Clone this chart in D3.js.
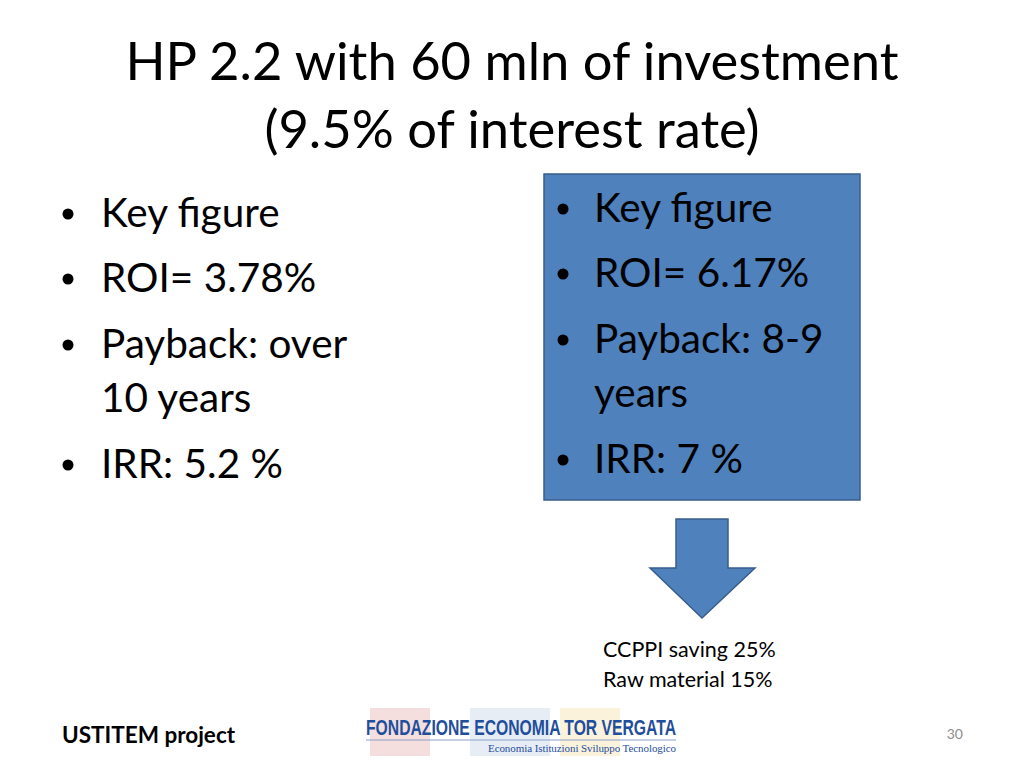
<!DOCTYPE html><html><head><meta charset="utf-8"><script src="https://cdn.jsdelivr.net/npm/d3@7"></script>
<style>body{margin:0;background:#fff}</style></head><body><script>
const titleLines=["HP 2.2 with 60 mln of investment","(9.5% of interest rate)"];
const leftBullets=[["Key figure"],["ROI= 3.78%"],["Payback: over","10 years"],["IRR: 5.2 %"]];
const rightBullets=[["Key figure"],["ROI= 6.17%"],["Payback: 8-9","years"],["IRR: 7 %"]];
const noteLines=["CCPPI saving 25%","Raw material 15%"];
const F="Lato, 'Open Sans', sans-serif";
const svg=d3.select("body").append("svg").attr("width",1024).attr("height",768);
svg.selectAll(".t").data(titleLines).join("text").attr("x",512).attr("y",(d,i)=>[80,148][i])
 .attr("text-anchor","middle").attr("font-family",F).attr("font-size",52.5).attr("fill","#000").text(d=>d);
svg.append("rect").attr("x",544).attr("y",174).attr("width",316).attr("height",326).attr("fill","#4f81bd").attr("stroke","#385d8a").attr("stroke-width",1.5);
svg.append("path").attr("d","M676,519H728V568H755L702,618L650,568H676Z").attr("fill","#4f81bd").attr("stroke","#385d8a").attr("stroke-width",1.5);
function bullets(data,xb,xt,ys){
  data.forEach((lines,i)=>{
    svg.append("circle").attr("cx",xb).attr("cy",ys[i]-13).attr("r",5.5).attr("fill","#000");
    lines.forEach((l,j)=>svg.append("text").attr("x",xt).attr("y",ys[i]+j*54).attr("font-family",F).attr("font-size",40.5).text(l));
  });
}
bullets(leftBullets,68,101,[227,292,358,478]);
bullets(rightBullets,563,594,[222,287,353,473]);
svg.selectAll(".n").data(noteLines).join("text").attr("x",603).attr("y",(d,i)=>657+i*30).attr("font-family",F).attr("font-size",21.5).text(d=>d);
svg.append("text").attr("x",62).attr("y",743).attr("font-family",F).attr("font-weight","bold").attr("font-size",22.5).text("USTITEM project");
svg.append("text").attr("x",963).attr("y",739).attr("text-anchor","end").attr("font-family",F).attr("font-size",14).attr("fill","#8c8c8c").text("30");
// logo
const lg=svg.append("g");
[["#e8b5b5",370,60],["#c9d6e8",470,80],["#f3e3b0",560,60]].forEach(d=>lg.append("rect").attr("x",d[1]).attr("y",708).attr("width",d[2]).attr("height",48).attr("fill",d[0]).attr("opacity",0.45));
lg.append("text").attr("x",366).attr("y",735).attr("font-family","'Liberation Sans Narrow','Liberation Sans', sans-serif").attr("font-weight","bold").attr("font-size",22).attr("fill","#1f4e9c").attr("textLength",310).attr("lengthAdjust","spacingAndGlyphs").text("FONDAZIONE ECONOMIA TOR VERGATA");
lg.append("line").attr("x1",366).attr("x2",676).attr("y1",740).attr("y2",740).attr("stroke","#8aa0c8");
lg.append("text").attr("x",488).attr("y",752).attr("font-family","'Liberation Serif', serif").attr("font-size",11).attr("fill","#1f4e9c").attr("textLength",188).text("Economia  Istituzioni  Sviluppo Tecnologico");
</script></body></html>
